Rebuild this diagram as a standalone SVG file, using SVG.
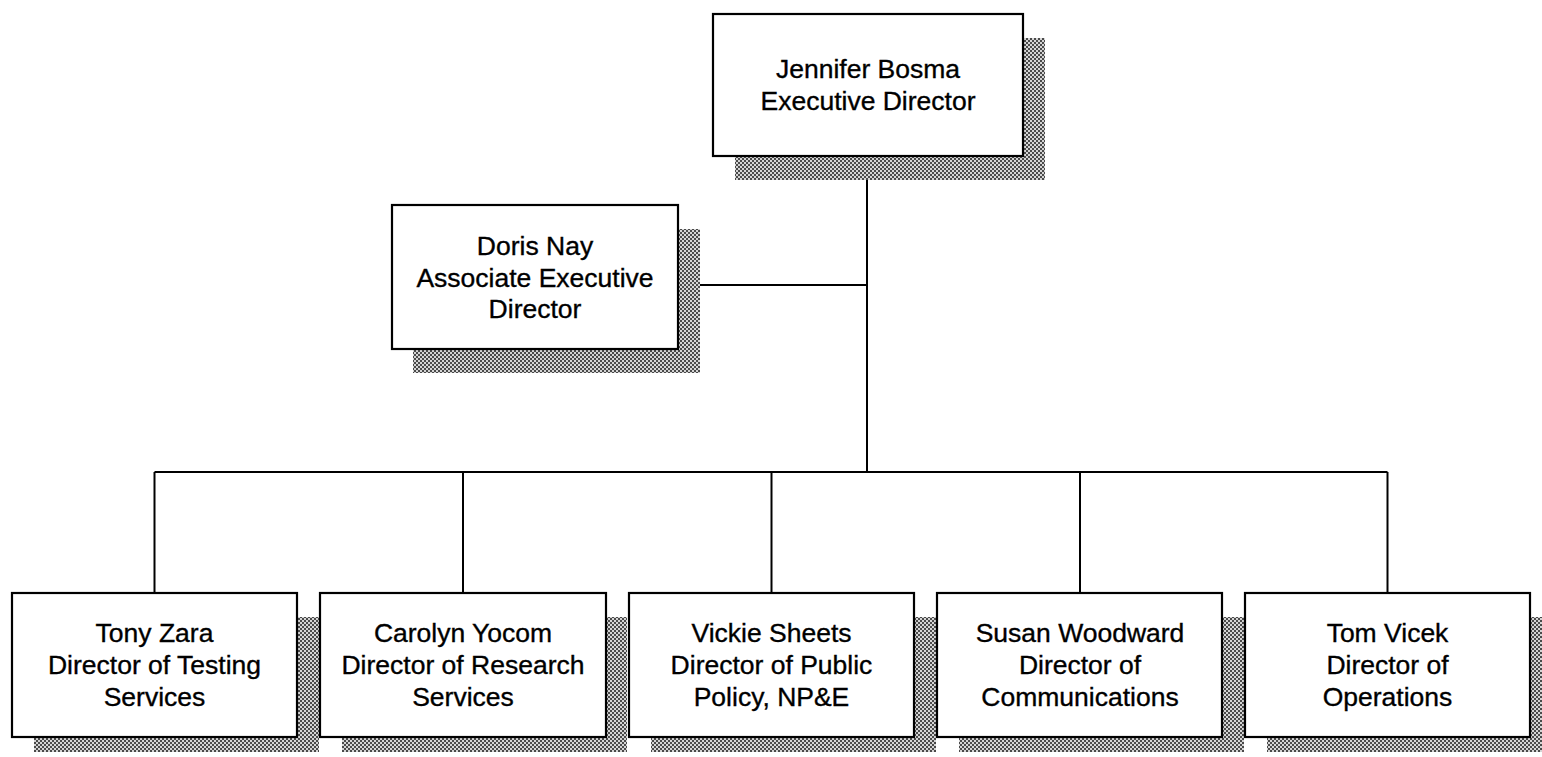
<svg xmlns="http://www.w3.org/2000/svg" width="1542" height="757" viewBox="0 0 1542 757">
  <style>
    .box { fill: #ffffff; stroke: #000000; stroke-width: 2.2; }
    .shadow { fill: url(#dither); }
    .label { font-family: "Liberation Sans", Arial, sans-serif; font-size: 26.5px; fill: #000000; stroke: #000000; stroke-width: 0.35; text-anchor: middle; }
    .wire { fill: none; stroke: #000000; stroke-width: 2; }
  </style>
  <defs>
    <!-- fine checkerboard used for the drop shadows -->
    <pattern id="dither" width="4" height="4" patternUnits="userSpaceOnUse">
      <rect width="4" height="4" fill="#d4d4d4"/>
      <rect x="0" y="0" width="2" height="2" fill="#4a4a4a"/>
      <rect x="2" y="2" width="2" height="2" fill="#4a4a4a"/>
    </pattern>
  </defs>

  <rect width="1542" height="757" fill="#ffffff"/>

  <!-- connectors -->
  <g id="connectors">
    <path class="wire" d="M867 156 V472"/>
    <path class="wire" d="M678 285 H867"/>
    <path class="wire" d="M154.5 472 H1387.5"/>
    <path class="wire" d="M154.5 472 V593"/>
    <path class="wire" d="M463 472 V593"/>
    <path class="wire" d="M771.5 472 V593"/>
    <path class="wire" d="M1080 472 V593"/>
    <path class="wire" d="M1387.5 472 V593"/>
  </g>

  <g id="executive-director">
    <rect class="shadow" x="735" y="38" width="310" height="142"/>
    <rect class="box" x="713" y="14" width="310" height="142"/>
    <text class="label" x="868" y="78">Jennifer Bosma</text>
    <text class="label" x="868" y="110">Executive Director</text>
  </g>

  <g id="associate-executive-director">
    <rect class="shadow" x="413" y="229" width="287" height="144"/>
    <rect class="box" x="392" y="205" width="286" height="144"/>
    <text class="label" x="535" y="255">Doris Nay</text>
    <text class="label" x="535" y="287">Associate Executive</text>
    <text class="label" x="535" y="318">Director</text>
  </g>

  <g id="testing-services">
    <rect class="shadow" x="34" y="617" width="285" height="135"/>
    <rect class="box" x="12" y="593" width="285" height="144"/>
    <text class="label" x="154.5" y="642">Tony Zara</text>
    <text class="label" x="154.5" y="674">Director of Testing</text>
    <text class="label" x="154.5" y="706">Services</text>
  </g>

  <g id="research-services">
    <rect class="shadow" x="342" y="617" width="285" height="135"/>
    <rect class="box" x="320" y="593" width="286" height="144"/>
    <text class="label" x="463" y="642">Carolyn Yocom</text>
    <text class="label" x="463" y="674">Director of Research</text>
    <text class="label" x="463" y="706">Services</text>
  </g>

  <g id="public-policy">
    <rect class="shadow" x="651" y="617" width="285" height="135"/>
    <rect class="box" x="629" y="593" width="285" height="144"/>
    <text class="label" x="771.5" y="642">Vickie Sheets</text>
    <text class="label" x="771.5" y="674">Director of Public</text>
    <text class="label" x="771.5" y="706">Policy, NP&amp;E</text>
  </g>

  <g id="communications">
    <rect class="shadow" x="959" y="617" width="285" height="135"/>
    <rect class="box" x="937" y="593" width="285" height="144"/>
    <text class="label" x="1080" y="642">Susan Woodward</text>
    <text class="label" x="1080" y="674">Director of</text>
    <text class="label" x="1080" y="706">Communications</text>
  </g>

  <g id="operations">
    <rect class="shadow" x="1267" y="617" width="285" height="135"/>
    <rect class="box" x="1245" y="593" width="285" height="144"/>
    <text class="label" x="1387.5" y="642">Tom Vicek</text>
    <text class="label" x="1387.5" y="674">Director of</text>
    <text class="label" x="1387.5" y="706">Operations</text>
  </g>
</svg>
